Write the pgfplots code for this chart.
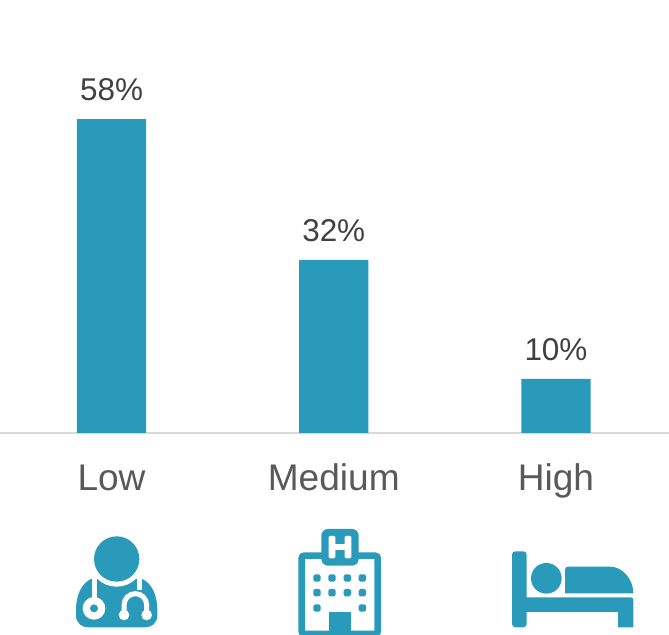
\documentclass[border=0pt]{standalone}
\usepackage{pgfplots}
\pgfplotsset{compat=1.18}
\usepackage{fontspec}
\setmainfont{Liberation Sans}
\definecolor{barteal}{HTML}{2A9ABA}
\definecolor{valuegrey}{HTML}{404040}
\definecolor{catgrey}{HTML}{595959}
\definecolor{baseline}{HTML}{D9D9D9}
\pgfplotstableread{
pos share
0 58
1 32
2 10
}\risktable
\begin{document}
\begin{tikzpicture}
\useasboundingbox (0,0) rectangle (501.75pt,476.25pt);
\begin{axis}[
  at={(0pt,151.5pt)}, anchor=south west,
  scale only axis, width=501.75pt, height=324.75pt,
  xmin=-0.5017, xmax=2.5085, ymin=0, ymax=80,
  axis x line*=bottom, axis y line=none,
  x axis line style={draw=baseline, line width=1.5pt, -},
  xtick=data, xticklabels={Low,Medium,High},
  major tick length=0pt,
  xticklabel style={font=\fontsize{27.8}{30}\selectfont, text=catgrey, anchor=base, yshift=-43.5pt},
  clip=false,
  ybar, bar width=52pt,
  /pgf/number format/assume math mode=true,
  nodes near coords={\pgfmathprintnumber{\pgfplotspointmeta}\%},
  nodes near coords style={font=\fontsize{23.6}{26}\selectfont, text=valuegrey, anchor=base, yshift=13.75pt},
  point meta=y,
]
\addplot[fill=barteal, draw=none] table[x=pos, y=share] {\risktable};
\end{axis}

% doctor icon
\begin{scope}[shift={(37.5pt,86.25pt)}, x=0.25pt, y=-0.25pt]
  \fill[barteal] (123,177) .. controls (95,190) and (78,225) .. (78,270)
    -- (78,285) .. controls (78,310) and (95,322) .. (115,322) -- (285,322)
    .. controls (305,322) and (322,310) .. (322,285) -- (322,270)
    .. controls (322,225) and (305,190) .. (277,177) -- cycle;
  \fill[white] (200,117) circle[radius=83];
  \fill[barteal] (200,117) circle[radius=68];
  \draw[white, line width=3.75pt] (133,170) -- (133,240);
  \draw[white, line width=3.75pt] (269,170) -- (269,210);
  \fill[white] (132,265) circle[radius=34];
  \fill[barteal] (132,265) circle[radius=12];
  \draw[white, line width=3.75pt] (222,285) -- (222,255)
    arc[start angle=180, end angle=0, x radius=34, y radius=-34] -- (290,285);
  \fill[white] (222,285) circle[radius=16];
  \fill[white] (290,285) circle[radius=16];
\end{scope}

% hospital icon
\begin{scope}[shift={(210pt,86.25pt)}, x=0.25pt, y=-0.25pt]
  \draw[barteal, line width=5pt, rounded corners=2pt] (65,107) rectangle (293,342);
  \fill[barteal, rounded corners=5pt] (124,27) rectangle (236,137);
  \fill[white, rounded corners=1pt] (146,48) rectangle (166,115);
  \fill[white, rounded corners=1pt] (194,48) rectangle (214,115);
  \fill[white] (160,72) rectangle (200,90);
  \foreach \yy in {174,218}
    \foreach \xx in {111,156,202,247}
      \fill[barteal, rounded corners=1.2pt] (\xx-11,\yy-11) rectangle (\xx+11,\yy+11);
  \foreach \xx in {111,247}
    \fill[barteal, rounded corners=1.2pt] (\xx-11,264-11) rectangle (\xx+11,264+11);
  \fill[barteal] (146,277) rectangle (213,352);
\end{scope}

% bed icon
\begin{scope}[shift={(375pt,71.25pt)}, x=0.25pt, y=-0.25pt]
  \fill[barteal, rounded corners=2.5pt] (36,262) -- (36,34) -- (80,34) -- (80,262) -- cycle;
  \fill[barteal] (139,115) circle[radius=46];
  \fill[barteal] (195,160) -- (195,90) .. controls (195,83) and (198,80) .. (205,80)
    -- (330,80) .. controls (370,80) and (400,120) .. (400,160) -- cycle;
  \fill[barteal] (60,172) -- (392,172) .. controls (397,172) and (400,175) .. (400,180)
    -- (400,262) -- (354,262) -- (354,216) -- (60,216) -- cycle;
\end{scope}
\end{tikzpicture}
\end{document}
